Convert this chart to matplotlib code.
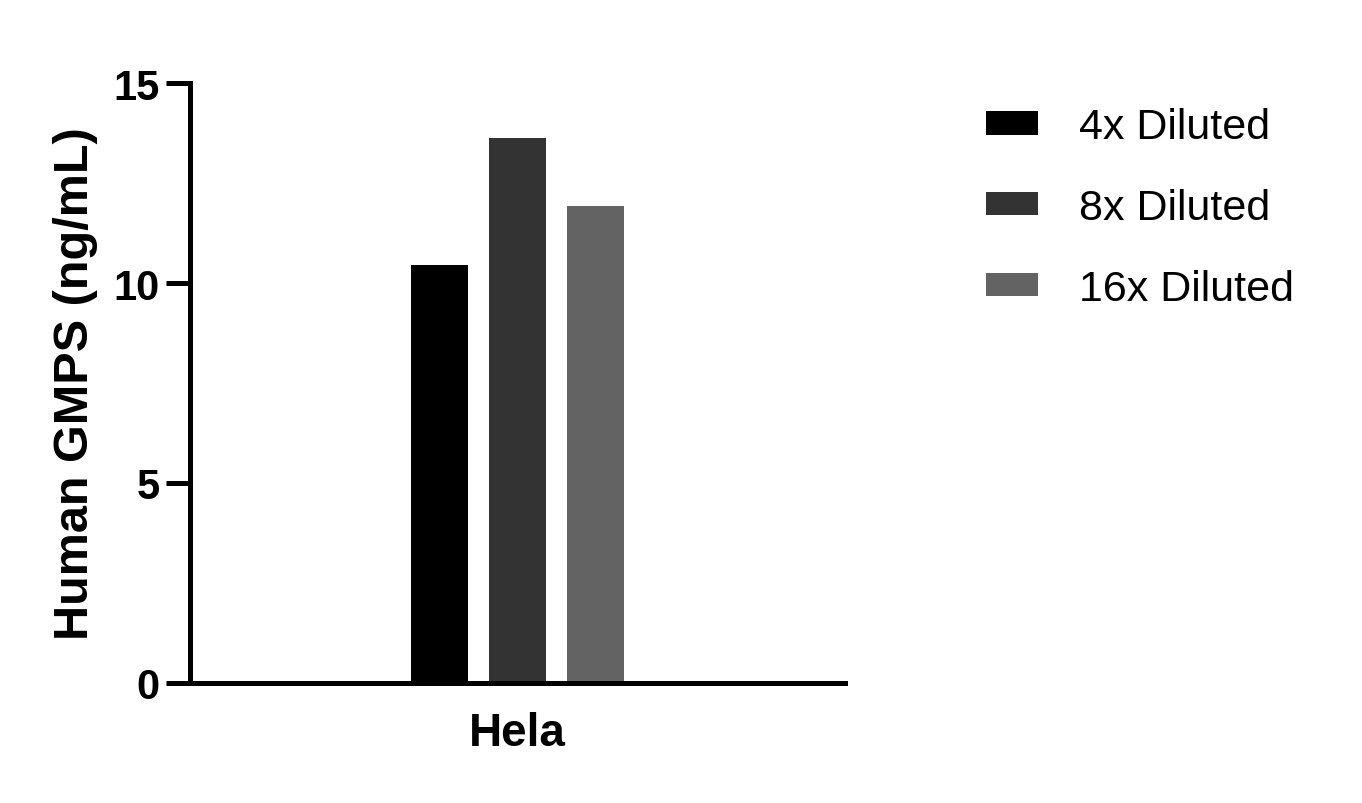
import matplotlib
matplotlib.use("Agg")
import matplotlib.pyplot as plt
import numpy as np

plt.rcParams['font.family'] = ['Liberation Sans', 'DejaVu Sans']

categories = ["Hela"]
series = ["4x Diluted", "8x Diluted", "16x Diluted"]
values = [10.45, 13.63, 11.93]
colors = ["#000000", "#333333", "#636363"]

fig = plt.figure(figsize=(13.62, 8.04), dpi=100)
ax = fig.add_axes([190 / 1362, 1 - 684 / 804, 655 / 1362, 600 / 804])

offsets = [-1, 0, 1]
for off, name, val, col in zip(offsets, series, values, colors):
    ax.bar(0 + off, val, width=0.74, color=col, label=name, zorder=1)

ax.set_xlim(-4.2, 4.2)
ax.set_ylim(0, 15)
ax.set_yticks([0, 5, 10, 15])
ax.set_xticks([0])
ax.set_xticklabels(categories, fontsize=33, fontweight='bold')

for side in ['top', 'right']:
    ax.spines[side].set_visible(False)
for side in ['left', 'bottom']:
    ax.spines[side].set_linewidth(3.6)
    ax.spines[side].set_zorder(3)

ax.tick_params(axis='y', length=17, width=3.6, pad=5, labelsize=30)
ax.tick_params(axis='x', length=0, pad=20)
for lbl in ax.get_yticklabels():
    lbl.set_fontweight('bold')

ax.set_ylabel("Human GMPS (ng/mL)", fontsize=35, fontweight='bold', labelpad=11)

fig.legend(loc='upper left', bbox_to_anchor=(986 / 1362, 1 - 108 / 804),
           frameon=False, fontsize=31, handlelength=1.21, handleheight=0.47,
           handletextpad=0.95, labelspacing=0.95, borderpad=0, borderaxespad=0)

fig.savefig("out.png", dpi=100)
